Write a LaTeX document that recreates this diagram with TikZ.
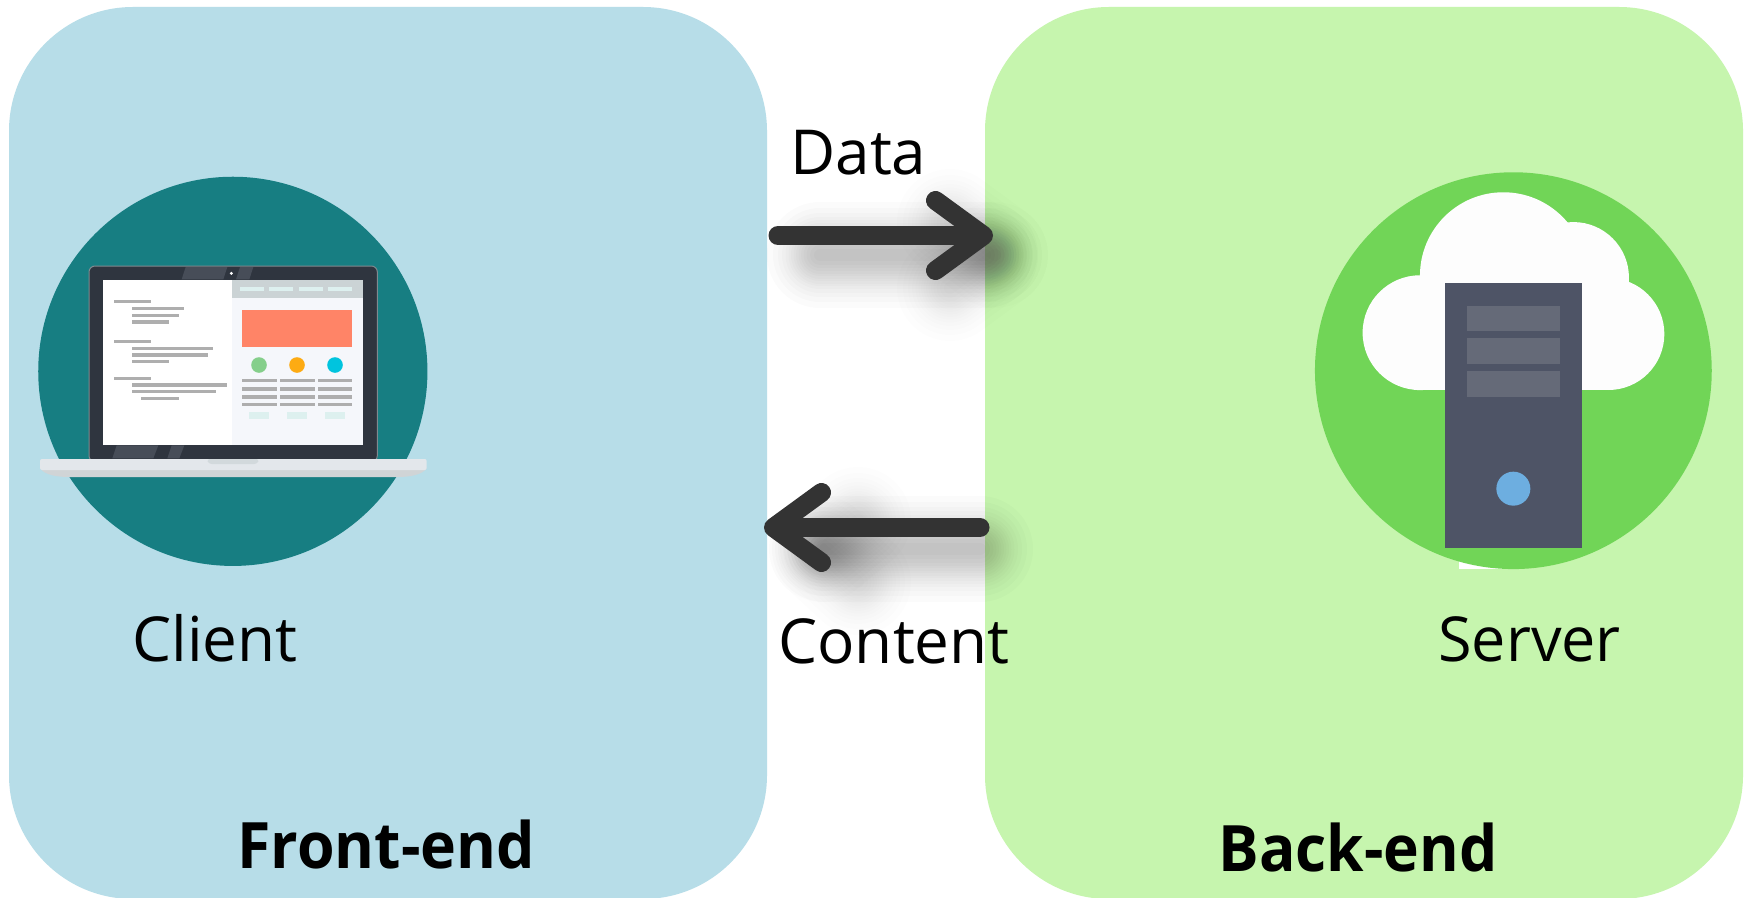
\documentclass[tikz,border=0pt]{standalone}
\usepackage{fontspec}
\setmainfont{Open Sans}
\usetikzlibrary{arrows.meta}
\definecolor{frontfill}{HTML}{B7DDE8}
\definecolor{backfill}{HTML}{C6F5AE}
\definecolor{tealdisc}{HTML}{177E82}
\definecolor{greendisc}{HTML}{71D557}
\definecolor{lidcol}{HTML}{2F353F}
\definecolor{lidedge}{HTML}{7F8A90}
\definecolor{lidhi}{HTML}{474D58}
\definecolor{towercol}{HTML}{4E5466}
\definecolor{barcol}{HTML}{656A78}
\definecolor{ledcol}{HTML}{6DAEE0}
\definecolor{arrowcol}{HTML}{333333}
\definecolor{linegray}{HTML}{AEAEAE}
\definecolor{paleteal}{HTML}{DDF0EF}
\definecolor{sidepage}{HTML}{F5F7FB}
\definecolor{headergray}{HTML}{CBD3D5}
\definecolor{coral}{HTML}{FF8467}
\definecolor{dotgreen}{HTML}{85CF8B}
\definecolor{dotamber}{HTML}{FDAB13}
\definecolor{dotcyan}{HTML}{00C4DE}
\definecolor{basetop}{HTML}{E3E7EB}
\definecolor{baselow}{HTML}{D0D4D6}
\definecolor{notchcol}{HTML}{D2D9DC}
\definecolor{cloudwhite}{HTML}{FDFDFD}
\tikzset{
  panel/.style={rectangle,rounded corners=62pt,minimum width=379pt,minimum height=446pt,inner sep=0pt,draw=none},
  label/.style={anchor=base west,inner sep=0pt,text=black,font=\fontsize{31pt}{36pt}\selectfont},
  title/.style={anchor=base west,inner sep=0pt,text=black,font=\fontsize{32pt}{38pt}\selectfont\bfseries},
  conn/.style={draw=arrowcol,line width=9.5pt,line cap=round,line join=round,
    -{Straight Barb[length=24pt,width=35pt,round,line width=9.5pt]}},
  soft/.style={line cap=round,line join=round,black},
}
% a blurred stroke: a stack of widening, very faint strokes
\newcommand{\softline}[5]{\foreach \w in {12,20,27,33,38,43,48,53,58,63,69,76,84,94,106}{\draw[soft,opacity=#5,line width=\w*0.5pt] (#1,#2) -- (#3,#4);}}
\newcommand{\rowbar}[3]{\fill[linegray] (#1,#3-5) rectangle (#2,#3+5);}
\begin{document}
\begin{tikzpicture}[x=.5pt,y=-.5pt]
\useasboundingbox (0,0) rectangle (1754,898);
\fill[white] (0,0) rectangle (1754,898);
\node[panel,fill=frontfill] (front) at (388,453) {};
\node[panel,fill=backfill] (back) at (1364,453) {};

% laptop icon (units: one third of a pixel)
\begin{scope}[shift={(20,160)},x=.16667pt,y=-.16667pt]
\fill[tealdisc] (638.5,634) circle [radius=97.3pt];
\filldraw[fill=lidcol,draw=lidedge,line width=.5pt,rounded corners=3pt] (207,318) rectangle (1072,905);
\fill[lidhi] (497,321)--(485,358)--(610,358)--(622,321)--cycle;
\fill[lidhi] (660,321)--(648,358)--(688,358)--(700,321)--cycle;
\fill[lidhi] (290,856)--(277,895)--(400,895)--(415,856)--cycle;
\fill[lidhi] (455,856)--(442,895)--(478,895)--(493,856)--cycle;
\fill[white] (634,340) circle [radius=.8pt];
\fill[white] (250,360) rectangle (635,855);
\fill[sidepage] (635,360) rectangle (1030,855);
\fill[headergray] (635,360) rectangle (1030,413);
\foreach \a/\b in {661/733,748/820,837/909,925/997}{\fill[paleteal] (\a,382) rectangle (\b,392);}
\fill[coral] (666,450) rectangle (997,562);
\fill[dotgreen] (717,615) circle [radius=3.9pt];
\fill[dotamber] (831,615) circle [radius=3.9pt];
\fill[dotcyan] (945,615) circle [radius=3.9pt];
\foreach \r in {662,687,711,734}{
  \rowbar{666}{770}{\r}\rowbar{780}{884}{\r}\rowbar{893}{997}{\r}}
\foreach \a/\b in {688/748,802/862,915/976}{\fill[paleteal] (\a,757) rectangle (\b,778);}
\foreach \a/\b/\r in {281/393/425,335/491/445,335/477/466,335/447/486,
  281/393/545,335/580/565,335/564/585,335/447/605,
  281/393/655,335/621/675,335/588/695,363/477/715}{\rowbar{\a}{\b}{\r}}
\fill[baselow] (60,925) .. controls (75,945) and (110,951) .. (150,951) -- (1130,951) .. controls (1170,951) and (1205,945) .. (1220,925) -- cycle;
\fill[basetop,rounded corners=1pt] (60,897) rectangle (1220,930);
\fill[notchcol,rounded corners=1.5pt] (560,897) -- (566,912) -- (712,912) -- (718,897) -- cycle;
\end{scope}

% server icon (units: one third of a pixel)
\begin{scope}[shift={(1300,160)},x=.16667pt,y=-.16667pt]
\fill[white] (478,1190) rectangle (640,1226);
\fill[greendisc] (640,632) circle [radius=99.2pt];
\fill[cloudwhite] (360,518) circle [radius=28.7pt];
\fill[cloudwhite] (610,347) circle [radius=41.7pt];
\fill[cloudwhite] (820,353) circle [radius=27.8pt];
\fill[cloudwhite] (925,522) circle [radius=28pt];
\fill[cloudwhite] (360,346) rectangle (925,690);
\fill[towercol] (436,369) rectangle (845,1165);
\foreach \a/\b in {438/513,535/612,634/710}{\fill[barcol] (501,\a) rectangle (779,\b);}
\fill[ledcol] (640,986) circle [radius=8.5pt];
\end{scope}

% soft shadows under the arrows
\softline{820}{255}{985}{255}{.015}
\softline{950}{222}{995}{255}{.008}
\softline{950}{288}{995}{255}{.008}
\softline{980}{549}{825}{549}{.015}
\softline{858}{520}{822}{549}{.008}
\softline{858}{582}{822}{549}{.008}

\coordinate (dataA) at (778,235.5);
\coordinate (dataB) at (993,235.5);
\coordinate (contentA) at (980,527.5);
\coordinate (contentB) at (764,527.5);
\draw[conn] (dataA) -- (dataB);
\draw[conn] (contentA) -- (contentB);

\node[label] (datalab) at (790,175) {Data};
\node[label] (contentlab) at (778,663) {Content};
\node[label] (clientlab) at (132,661) {Client};
\node[label] (serverlab) at (1438,661) {\scalebox{.985}[1]{Server}};
\node[title] (frontlab) at (237,868) {\scalebox{.95}[1]{Front-end}};
\node[title] (backlab) at (1218,871) {\scalebox{.945}[1]{Back-end}};
\end{tikzpicture}
\end{document}
